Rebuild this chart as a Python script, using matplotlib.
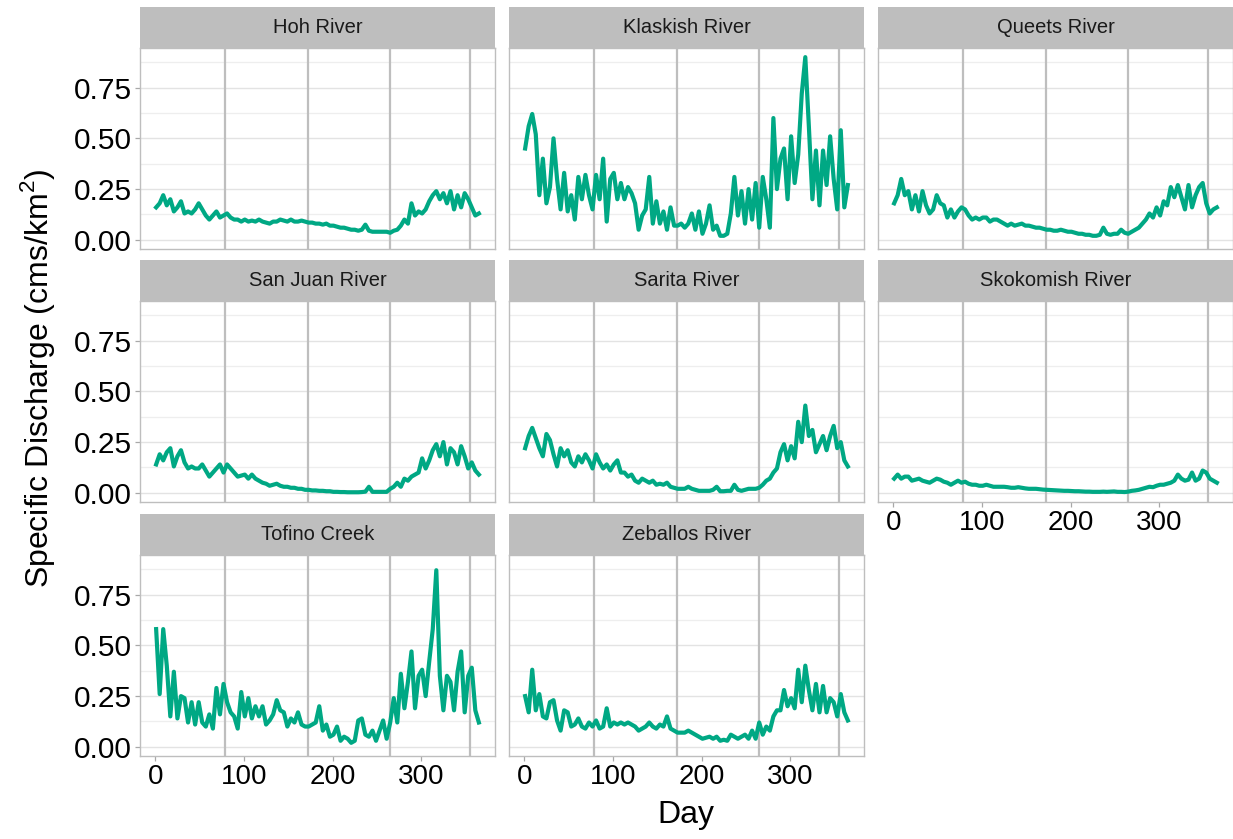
import matplotlib
matplotlib.use('Agg')
import matplotlib.pyplot as plt

plt.rcParams['font.family'] = ['Liberation Sans', 'DejaVu Sans']
plt.rcParams['mathtext.fontset'] = 'custom'
plt.rcParams['mathtext.rm'] = 'Liberation Sans'

# day of year, sampled every 4 days
days = list(range(1, 366, 4))

rivers = ['Hoh River', 'Klaskish River', 'Queets River', 'San Juan River',
          'Sarita River', 'Skokomish River', 'Tofino Creek', 'Zeballos River']

hoh = [0.16, 0.18, 0.22, 0.17, 0.20, 0.14, 0.16, 0.19, 0.13, 0.14,
       0.13, 0.15, 0.18, 0.15, 0.12, 0.10, 0.12, 0.14, 0.11, 0.12,
       0.13, 0.11, 0.10, 0.10, 0.09, 0.10, 0.09, 0.095, 0.09, 0.10,
       0.09, 0.085, 0.08, 0.09, 0.09, 0.10, 0.095, 0.09, 0.10, 0.09,
       0.09, 0.095, 0.09, 0.085, 0.085, 0.08, 0.08, 0.075, 0.08, 0.07,
       0.07, 0.065, 0.06, 0.06, 0.055, 0.05, 0.05, 0.045, 0.05, 0.075,
       0.045, 0.04, 0.04, 0.04, 0.04, 0.04, 0.035, 0.045, 0.05, 0.07,
       0.10, 0.08, 0.18, 0.12, 0.14, 0.13, 0.15, 0.19, 0.22, 0.24,
       0.20, 0.23, 0.18, 0.24, 0.15, 0.22, 0.16, 0.23, 0.20, 0.16,
       0.12, 0.13]

klaskish = [0.45, 0.56, 0.62, 0.52, 0.22, 0.40, 0.18, 0.26, 0.50, 0.30,
            0.15, 0.33, 0.14, 0.22, 0.10, 0.31, 0.20, 0.32, 0.22, 0.15,
            0.32, 0.20, 0.40, 0.09, 0.30, 0.33, 0.20, 0.28, 0.20, 0.26,
            0.23, 0.18, 0.05, 0.12, 0.15, 0.31, 0.08, 0.19, 0.08, 0.14,
            0.05, 0.16, 0.07, 0.07, 0.08, 0.06, 0.08, 0.13, 0.05, 0.14,
            0.03, 0.08, 0.17, 0.05, 0.07, 0.02, 0.02, 0.03, 0.13, 0.31,
            0.12, 0.24, 0.08, 0.25, 0.10, 0.28, 0.06, 0.31, 0.20, 0.06,
            0.60, 0.25, 0.40, 0.45, 0.20, 0.51, 0.28, 0.42, 0.72, 0.90,
            0.56, 0.20, 0.44, 0.17, 0.44, 0.27, 0.51, 0.30, 0.15, 0.54,
            0.16, 0.27]

queets = [0.18, 0.22, 0.30, 0.22, 0.24, 0.15, 0.22, 0.14, 0.24, 0.17,
          0.13, 0.15, 0.22, 0.18, 0.17, 0.11, 0.15, 0.11, 0.14, 0.16,
          0.15, 0.12, 0.10, 0.11, 0.10, 0.11, 0.11, 0.09, 0.10, 0.10,
          0.09, 0.08, 0.07, 0.08, 0.07, 0.075, 0.08, 0.07, 0.07, 0.065,
          0.06, 0.06, 0.055, 0.05, 0.05, 0.045, 0.045, 0.05, 0.045, 0.04,
          0.04, 0.035, 0.03, 0.03, 0.025, 0.025, 0.02, 0.02, 0.025, 0.06,
          0.03, 0.025, 0.03, 0.03, 0.05, 0.035, 0.03, 0.04, 0.05, 0.06,
          0.08, 0.10, 0.13, 0.11, 0.16, 0.12, 0.19, 0.17, 0.26, 0.21,
          0.27, 0.21, 0.15, 0.27, 0.16, 0.22, 0.26, 0.28, 0.18, 0.13,
          0.15, 0.16]

san_juan = [0.14, 0.19, 0.16, 0.20, 0.22, 0.13, 0.18, 0.21, 0.15, 0.12,
            0.13, 0.12, 0.12, 0.14, 0.11, 0.08, 0.10, 0.12, 0.14, 0.10,
            0.14, 0.12, 0.10, 0.08, 0.085, 0.09, 0.07, 0.09, 0.07, 0.06,
            0.05, 0.045, 0.035, 0.04, 0.045, 0.035, 0.03, 0.03, 0.025, 0.025,
            0.02, 0.02, 0.015, 0.015, 0.012, 0.012, 0.01, 0.01, 0.008, 0.008,
            0.005, 0.005, 0.004, 0.004, 0.003, 0.003, 0.003, 0.003, 0.004, 0.006,
            0.03, 0.005, 0.005, 0.005, 0.005, 0.005, 0.02, 0.03, 0.05, 0.03,
            0.07, 0.06, 0.08, 0.09, 0.10, 0.17, 0.12, 0.16, 0.21, 0.24,
            0.18, 0.25, 0.14, 0.22, 0.20, 0.14, 0.23, 0.18, 0.12, 0.15,
            0.11, 0.09]

sarita = [0.22, 0.28, 0.32, 0.27, 0.22, 0.18, 0.29, 0.26, 0.19, 0.13,
          0.22, 0.18, 0.21, 0.15, 0.13, 0.18, 0.15, 0.19, 0.16, 0.12,
          0.19, 0.15, 0.12, 0.14, 0.11, 0.14, 0.16, 0.10, 0.10, 0.08,
          0.09, 0.06, 0.05, 0.07, 0.06, 0.05, 0.06, 0.04, 0.045, 0.04,
          0.05, 0.03, 0.025, 0.02, 0.02, 0.02, 0.03, 0.02, 0.015, 0.01,
          0.01, 0.01, 0.01, 0.015, 0.03, 0.008, 0.008, 0.01, 0.01, 0.04,
          0.015, 0.01, 0.015, 0.02, 0.02, 0.02, 0.025, 0.04, 0.06, 0.07,
          0.10, 0.12, 0.20, 0.24, 0.16, 0.23, 0.17, 0.35, 0.25, 0.43,
          0.28, 0.31, 0.20, 0.24, 0.28, 0.21, 0.28, 0.33, 0.22, 0.25,
          0.16, 0.13]

skokomish = [0.07, 0.09, 0.07, 0.08, 0.08, 0.06, 0.065, 0.07, 0.06, 0.055,
             0.05, 0.06, 0.07, 0.065, 0.055, 0.05, 0.04, 0.05, 0.06, 0.05,
             0.055, 0.045, 0.04, 0.04, 0.035, 0.035, 0.04, 0.035, 0.03, 0.03,
             0.03, 0.03, 0.028, 0.025, 0.025, 0.028, 0.025, 0.022, 0.02, 0.02,
             0.02, 0.018, 0.016, 0.015, 0.014, 0.013, 0.012, 0.011, 0.01, 0.01,
             0.009, 0.008, 0.008, 0.007, 0.006, 0.006, 0.005, 0.005, 0.005, 0.006,
             0.005, 0.006, 0.007, 0.005, 0.005, 0.004, 0.006, 0.01, 0.012, 0.015,
             0.02, 0.025, 0.03, 0.028, 0.035, 0.04, 0.04, 0.045, 0.05, 0.06,
             0.09, 0.07, 0.06, 0.065, 0.10, 0.06, 0.07, 0.11, 0.10, 0.07,
             0.06, 0.05]

tofino = [0.58, 0.26, 0.58, 0.40, 0.15, 0.37, 0.14, 0.25, 0.24, 0.12,
          0.22, 0.11, 0.22, 0.12, 0.10, 0.16, 0.09, 0.29, 0.16, 0.31,
          0.22, 0.17, 0.15, 0.09, 0.27, 0.15, 0.24, 0.14, 0.20, 0.15,
          0.20, 0.11, 0.13, 0.16, 0.23, 0.18, 0.17, 0.10, 0.14, 0.12,
          0.17, 0.11, 0.10, 0.10, 0.11, 0.12, 0.20, 0.08, 0.11, 0.05,
          0.06, 0.10, 0.03, 0.05, 0.04, 0.02, 0.03, 0.13, 0.14, 0.06,
          0.05, 0.08, 0.03, 0.08, 0.13, 0.04, 0.12, 0.24, 0.12, 0.36,
          0.19, 0.32, 0.47, 0.19, 0.35, 0.38, 0.25, 0.42, 0.58, 0.87,
          0.35, 0.18, 0.35, 0.32, 0.18, 0.37, 0.47, 0.17, 0.35, 0.39,
          0.18, 0.12]

zeballos = [0.25, 0.17, 0.38, 0.18, 0.26, 0.15, 0.14, 0.22, 0.23, 0.13,
            0.08, 0.18, 0.17, 0.10, 0.11, 0.14, 0.10, 0.09, 0.12, 0.10,
            0.13, 0.09, 0.10, 0.19, 0.10, 0.12, 0.11, 0.12, 0.11, 0.12,
            0.11, 0.10, 0.08, 0.09, 0.10, 0.12, 0.10, 0.09, 0.11, 0.10,
            0.15, 0.09, 0.08, 0.07, 0.07, 0.07, 0.08, 0.07, 0.06, 0.05,
            0.04, 0.045, 0.05, 0.04, 0.05, 0.03, 0.035, 0.03, 0.06, 0.05,
            0.04, 0.05, 0.06, 0.04, 0.08, 0.04, 0.12, 0.06, 0.10, 0.08,
            0.15, 0.18, 0.18, 0.28, 0.20, 0.24, 0.19, 0.38, 0.22, 0.40,
            0.28, 0.18, 0.31, 0.17, 0.30, 0.17, 0.24, 0.22, 0.15, 0.26,
            0.17, 0.13]

series = [hoh, klaskish, queets, san_juan, sarita, skokomish, tofino, zeballos]

# equinoxes / solstices
seasons = [79, 172, 265, 355]
yticks = [0.00, 0.25, 0.50, 0.75]
yminor = [0.125, 0.375, 0.625, 0.875]
xticks = [0, 100, 200, 300]

W, H = 1233, 839
fig = plt.figure(figsize=(W / 100, H / 100), dpi=100)

col_left = [140, 509, 878]
row_top = [48, 301, 555]
panel_w, panel_h, strip_h = 355, 201, 41


def px_box(left, top, w, h):
    return [left / W, 1 - (top + h) / H, w / W, h / H]


line_color = '#00A884'
border = '#BEBEBE'

for k, (name, vals) in enumerate(zip(rivers, series)):
    r, c = divmod(k, 3)
    ax = fig.add_axes(px_box(col_left[c], row_top[r], panel_w, panel_h))
    ax.set_xlim(-17.2, 383.2)
    ax.set_ylim(-0.045, 0.945)
    ax.set_yticks(yticks)
    ax.set_yticks(yminor, minor=True)
    ax.set_yticklabels(['0.00', '0.25', '0.50', '0.75'])
    ax.set_xticks(xticks)
    ax.grid(axis='y', which='major', color='#E3E3E3', lw=1.0)
    ax.grid(axis='y', which='minor', color='#EEEEEE', lw=0.9)
    ax.set_axisbelow(True)
    for d in seasons:
        ax.axvline(d, color=border, lw=1.6, zorder=1)
    ax.plot(days, vals, color=line_color, lw=3.0, zorder=3,
            solid_joinstyle='round')
    for s in ax.spines.values():
        s.set_color(border)
        s.set_linewidth(1.0)
    ax.tick_params(which='major', length=3.5, width=0.9, color='#A8A8A8', pad=2.5)
    ax.tick_params(axis='y', labelsize=21.5)
    ax.tick_params(axis='x', labelsize=20)
    ax.tick_params(which='minor', length=0)
    if c > 0:
        ax.tick_params(left=False, labelleft=False)
    if k + 3 < len(rivers):
        ax.tick_params(bottom=False, labelbottom=False)

    sax = fig.add_axes(px_box(col_left[c], row_top[r] - strip_h, panel_w, strip_h))
    sax.set_facecolor(border)
    sax.set_xticks([])
    sax.set_yticks([])
    for s in sax.spines.values():
        s.set_visible(False)
    sax.text(0.5, 0.5, name, ha='center', va='center', fontsize=14.5,
             color='#1A1A1A', transform=sax.transAxes)

fig.text(38 / W, 1 - 378 / H, 'Specific Discharge (cms/km$^{2}$)',
         rotation=90, ha='center', va='center', fontsize=23)
fig.text(686 / W, 1 - 815 / H, 'Day', ha='center', va='center', fontsize=23)

fig.savefig('out.png', dpi=100)
